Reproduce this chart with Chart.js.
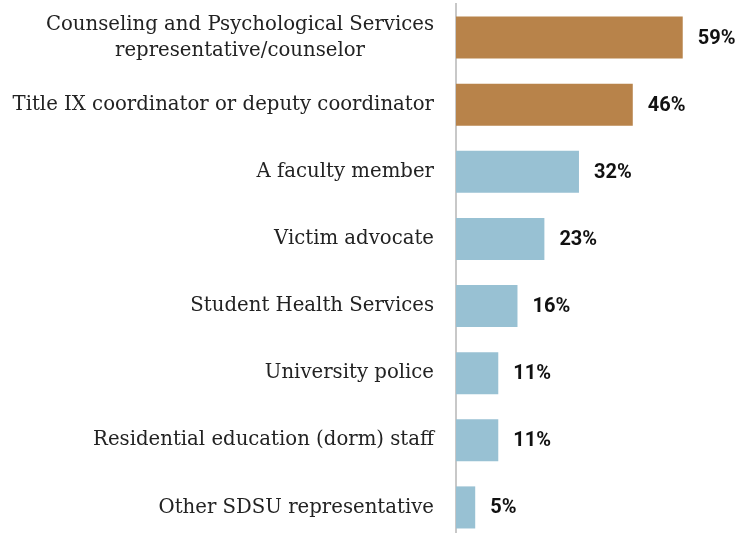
<!DOCTYPE html>
<html>
<head>
<meta charset="utf-8">
<script src="https://cdn.jsdelivr.net/npm/chart.js@4/dist/chart.umd.min.js"></script>
<style>
  html, body { margin: 0; padding: 0; background: #fff; overflow: hidden; }
  #wrap { position: relative; width: 739px; height: 541px; }
</style>
</head>
<body>
<div id="wrap"><canvas id="c"></canvas></div>
<script>
// Who students would contact, share of respondents (%)
const categories = [
  ["Counseling and Psychological Services", "representative/counselor"],
  ["Title IX coordinator or deputy coordinator"],
  ["A faculty member"],
  ["Victim advocate"],
  ["Student Health Services"],
  ["University police"],
  ["Residential education (dorm) staff"],
  ["Other SDSU representative"]
];
const values = [59, 46, 32, 23, 16, 11, 11, 5];
const highlighted = [true, true, false, false, false, false, false, false];

const ORANGE = '#b8834a';
const BLUE = '#98c1d3';
const LABEL_FONT = '19.7px "DejaVu Serif"';
const VALUE_FONT = 'bold 20px Roboto';

// Category labels, right aligned to the axis, multi-line blocks centred on themselves
const categoryLabels = {
  id: 'categoryLabels',
  afterDraw(chart) {
    const ctx = chart.ctx;
    const y = chart.scales.y;
    ctx.save();
    ctx.font = LABEL_FONT;
    ctx.fillStyle = '#222';
    ctx.textBaseline = 'middle';
    const right = chart.chartArea.left - 22;
    const lineH = 26;
    categories.forEach((lines, i) => {
      const cy = y.getPixelForValue(i);
      const widths = lines.map(l => ctx.measureText(l).width);
      const blockW = Math.max(...widths);
      const startY = cy - (lines.length - 1) * lineH / 2;
      lines.forEach((l, j) => {
        ctx.textAlign = 'center';
        ctx.fillText(l, right - blockW / 2, startY + j * lineH);
      });
    });
    ctx.restore();
  }
};

// Percentage labels after each bar
const valueLabels = {
  id: 'valueLabels',
  afterDatasetsDraw(chart) {
    const ctx = chart.ctx;
    const meta = chart.getDatasetMeta(0);
    ctx.save();
    ctx.font = VALUE_FONT;
    ctx.fillStyle = '#111';
    ctx.textAlign = 'left';
    ctx.textBaseline = 'middle';
    meta.data.forEach((bar, i) => {
      ctx.fillText(values[i] + '%', bar.x + 15, bar.y + 1);
    });
    ctx.restore();
  }
};

new Chart(document.getElementById('c'), {
  type: 'bar',
  data: {
    labels: categories.map(l => l.join(' ')),
    datasets: [{
      data: values,
      backgroundColor: highlighted.map(h => h ? ORANGE : BLUE),
      borderWidth: 0,
      categoryPercentage: 1,
      barPercentage: 0.627
    }]
  },
  options: {
    indexAxis: 'y',
    responsive: true,
    maintainAspectRatio: false,
    animation: false,
    layout: { padding: { top: 4, right: 14, bottom: 0, left: 0 } },
    plugins: { legend: { display: false }, tooltip: { enabled: false } },
    scales: {
      x: {
        display: false,
        min: 0,
        max: 70
      },
      y: {
        position: 'left',
        grid: { display: false, drawTicks: false },
        border: { display: true, color: '#c8c8c8', width: 2 },
        ticks: { display: false },
        afterFit(scale) { scale.width = 456; }
      }
    }
  },
  plugins: [categoryLabels, valueLabels]
});
</script>
</body>
</html>
